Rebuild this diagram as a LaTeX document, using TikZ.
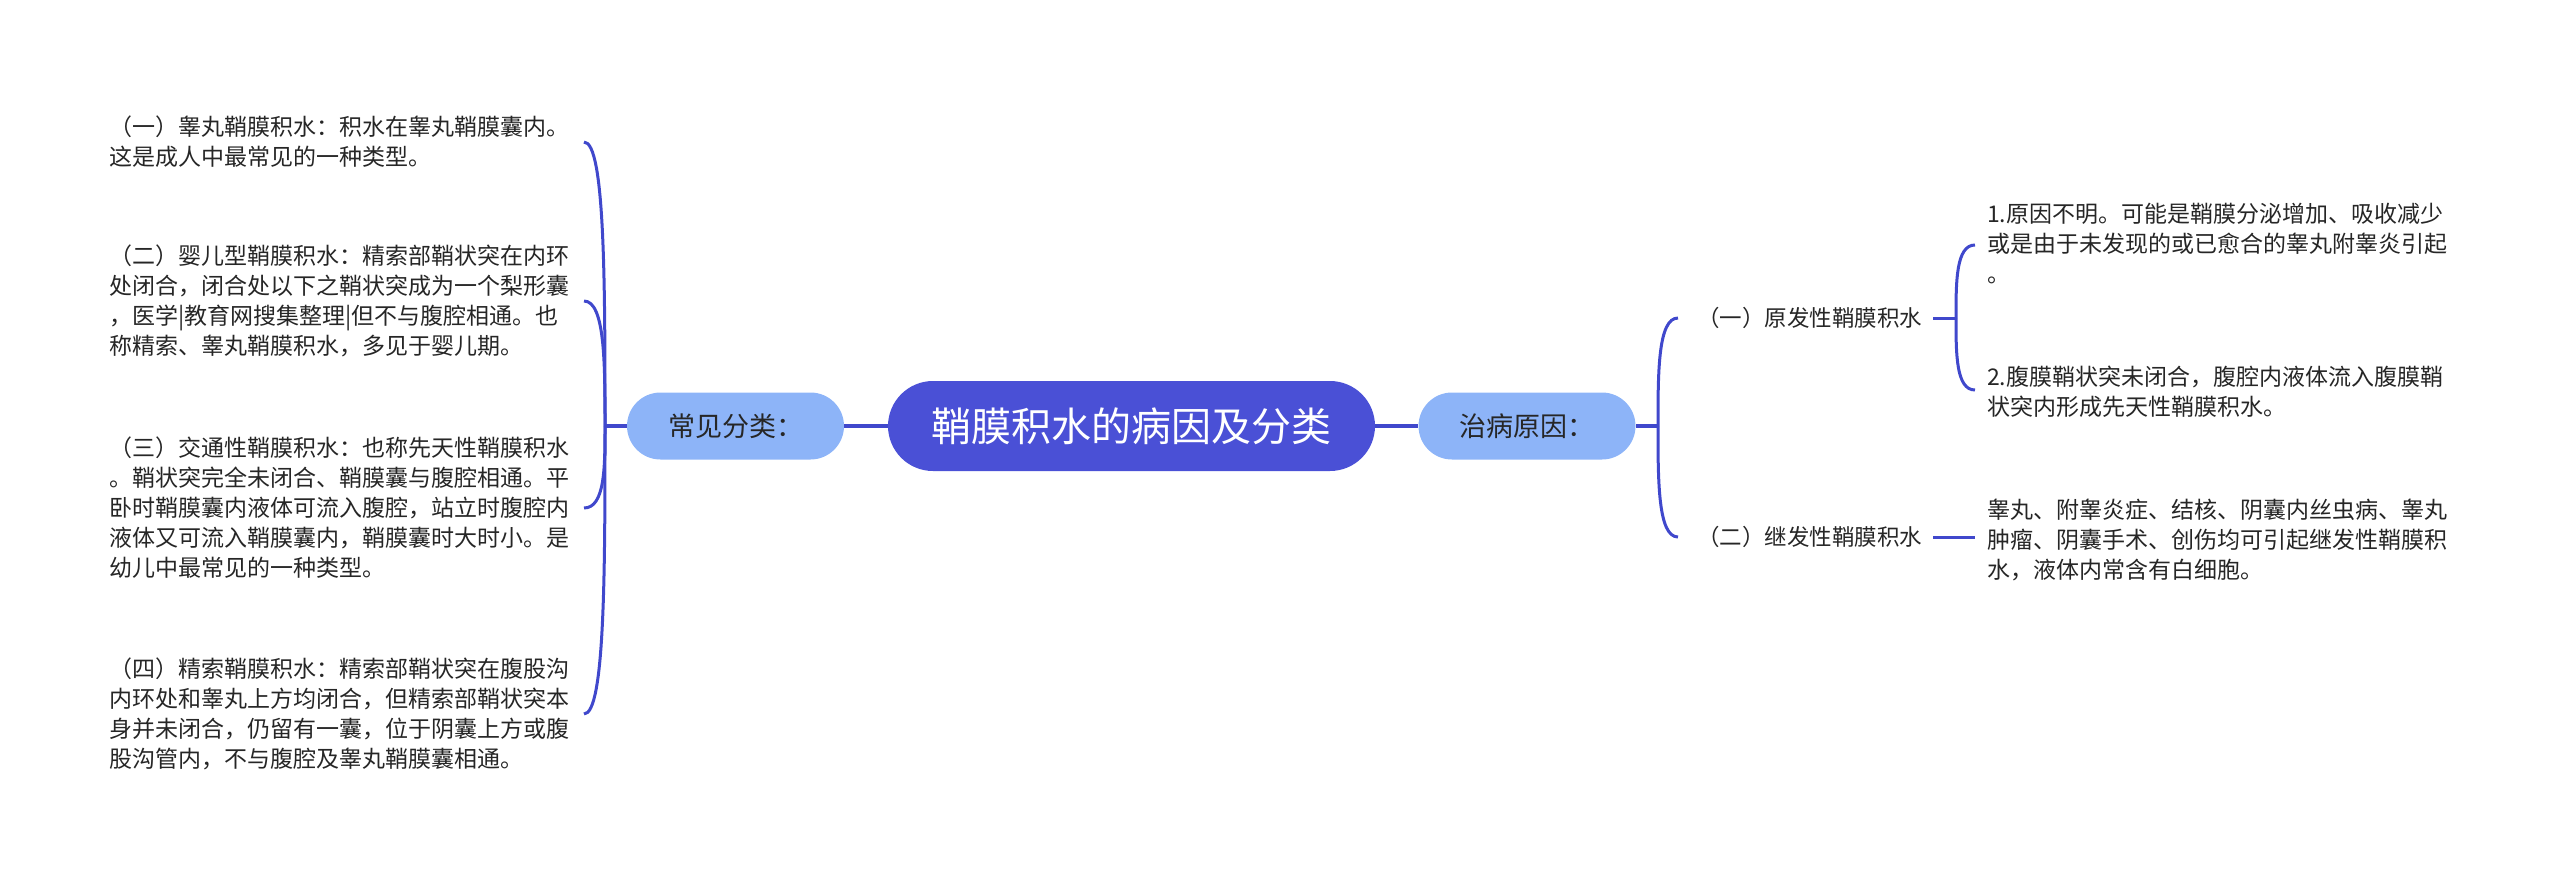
\documentclass[tikz,border=0pt]{standalone}
\usepackage{fontspec}
\setmainfont{Noto Sans CJK SC}
\definecolor{lineblue}{HTML}{4048CC}
\definecolor{rootblue}{HTML}{4A50D6}
\definecolor{lightblue}{HTML}{8DB4F8}
\definecolor{txt}{HTML}{262626}
\begin{document}
\begin{tikzpicture}[x=1pt,y=-1pt,
  leaf/.style={anchor=base west, inner sep=0pt, align=left, text=txt,
    font=\fontsize{23}{30}\selectfont},
  lab/.style={anchor=west, inner sep=0pt, text=txt, text height=19.8pt, text depth=2.3pt,
    font=\fontsize{22.5}{29.5}\selectfont},
  rootnode/.style={fill=rootblue, text=white, minimum width=487pt, minimum height=90pt,
    rounded corners=45pt, inner sep=0pt, text height=34.4pt, text depth=4pt,
    font=\fontsize{40}{48}\selectfont},
  subnode/.style={fill=lightblue, text=txt, minimum width=217pt, minimum height=67pt,
    rounded corners=33.5pt, inner sep=0pt, text height=23.2pt, text depth=2.7pt,
    font=\fontsize{27}{32}\selectfont},
  mainline/.style={draw=lineblue, line width=4pt},
  br/.style={draw=lineblue, line width=3pt},
]
\useasboundingbox (0,0) rectangle (2560,884);

% central nodes
\node[rootnode] (root) at (1131.5,426) {鞘膜积水的病因及分类};
\node[subnode] (cjfl) at (735.5,426) {常见分类：};
\node[subnode] (zbyy) at (1527,426) {治病原因：};

\path[mainline] (cjfl.east) -- (root.west);
\path[mainline] (root.east) -- (zbyy.west);

% left side
\coordinate (JL) at (605,426);
\path[mainline] (cjfl.west) -- (JL);

\node[leaf] (l1) at (109,165.7) {（一）睾丸鞘膜积水：积水在睾丸鞘膜囊内。\\这是成人中最常见的一种类型。};
\node[leaf] (l2) at (109,354.7) {（二）婴儿型鞘膜积水：精索部鞘状突在内环\\处闭合，闭合处以下之鞘状突成为一个梨形囊\\，医学|教育网搜集整理|但不与腹腔相通。也\\称精索、睾丸鞘膜积水，多见于婴儿期。};
\node[leaf] (l3) at (109,576.7) {（三）交通性鞘膜积水：也称先天性鞘膜积水\\。鞘状突完全未闭合、鞘膜囊与腹腔相通。平\\卧时鞘膜囊内液体可流入腹腔，站立时腹腔内\\液体又可流入鞘膜囊内，鞘膜囊时大时小。是\\幼儿中最常见的一种类型。};
\node[leaf] (l4) at (109,767.7) {（四）精索鞘膜积水：精索部鞘状突在腹股沟\\内环处和睾丸上方均闭合，但精索部鞘状突本\\身并未闭合，仍留有一囊，位于阴囊上方或腹\\股沟管内，不与腹腔及睾丸鞘膜囊相通。};

\coordinate (h1) at (584,142);
\coordinate (h2) at (584,301);
\coordinate (h3) at (584,508);
\coordinate (h4) at (584,714);
\path[br] (JL) .. controls (605,284) and (605,142) .. (h1);
\path[br] (JL) .. controls (605,363.5) and (605,301) .. (h2);
\path[br] (JL) .. controls (605,467) and (605,508) .. (h3);
\path[br] (JL) .. controls (605,570) and (605,714) .. (h4);

% right side
\coordinate (JR) at (1658,426);
\path[mainline] (zbyy.east) -- (JR);

\node[lab] (yf) at (1697,318) {（一）原发性鞘膜积水};
\node[lab] (jf) at (1697,537) {（二）继发性鞘膜积水};
\coordinate (hy) at (1678,318);
\coordinate (hj) at (1678,537);
\path[br] (JR) .. controls (1658,372) and (1658,318) .. (hy);
\path[br] (JR) .. controls (1658,481.5) and (1658,537) .. (hj);

\node[leaf] (r1) at (1987,282.7) {1.原因不明。可能是鞘膜分泌增加、吸收减少\\或是由于未发现的或已愈合的睾丸附睾炎引起\\。};
\node[leaf] (r2) at (1987,415.7) {2.腹膜鞘状突未闭合，腹腔内液体流入腹膜鞘\\状突内形成先天性鞘膜积水。};
\node[leaf] (r3) at (1987,578.7) {睾丸、附睾炎症、结核、阴囊内丝虫病、睾丸\\肿瘤、阴囊手术、创伤均可引起继发性鞘膜积\\水，液体内常含有白细胞。};

\coordinate (J3) at (1956,318);
\coordinate (hr1) at (1975,245);
\coordinate (hr2) at (1975,390);
\path[br] ([xshift=11pt]yf.east) -- (J3);
\path[br] (J3) .. controls (1956,281.5) and (1956,245) .. (hr1);
\path[br] (J3) .. controls (1956,354) and (1956,390) .. (hr2);

\coordinate (hr3) at (1975,537);
\path[br] ([xshift=11pt]jf.east) -- (hr3);
\end{tikzpicture}
\end{document}
